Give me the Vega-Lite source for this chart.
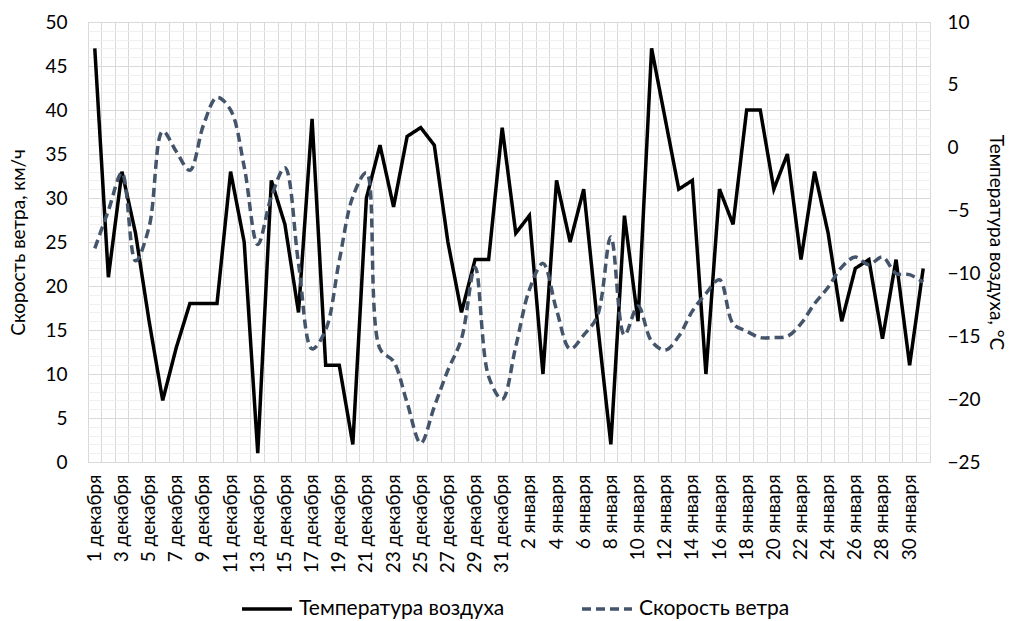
{
  "$schema": "https://vega.github.io/schema/vega-lite/v6.json",
  "width": 842,
  "height": 440,
  "autosize": {"type": "none"},
  "padding": {"left": 88, "top": 22, "right": 83, "bottom": 159},
  "background": "#ffffff",
  "config": {
    "font": "Lato",
    "view": {"stroke": "#d9d9d9", "strokeWidth": 1},
    "axis": {"labelFont": "Lato", "titleFont": "Lato", "labelColor": "#000000", "titleColor": "#000000", "titleFontWeight": "normal", "domain": false, "ticks": false},
    "legend": {"labelFont": "Lato", "labelColor": "#000000"}
  },
  "data": {
    "values": [
      {"day": "1 декабря", "temperature": 47, "wind_speed": -8},
      {"day": "2 декабря", "temperature": 21, "wind_speed": -5},
      {"day": "3 декабря", "temperature": 33, "wind_speed": -2},
      {"day": "4 декабря", "temperature": 26, "wind_speed": -9},
      {"day": "5 декабря", "temperature": 16, "wind_speed": -6.3},
      {"day": "6 декабря", "temperature": 7, "wind_speed": 1.3},
      {"day": "7 декабря", "temperature": 13, "wind_speed": -0.3},
      {"day": "8 декабря", "temperature": 18, "wind_speed": -1.8},
      {"day": "9 декабря", "temperature": 18, "wind_speed": 1.8},
      {"day": "10 декабря", "temperature": 18, "wind_speed": 4},
      {"day": "11 декабря", "temperature": 33, "wind_speed": 3},
      {"day": "12 декабря", "temperature": 25, "wind_speed": -1.5},
      {"day": "13 декабря", "temperature": 1, "wind_speed": -7.7},
      {"day": "14 декабря", "temperature": 32, "wind_speed": -3.9},
      {"day": "15 декабря", "temperature": 27, "wind_speed": -1.6},
      {"day": "16 декабря", "temperature": 17, "wind_speed": -9.2},
      {"day": "17 декабря", "temperature": 39, "wind_speed": -16},
      {"day": "18 декабря", "temperature": 11, "wind_speed": -14.5},
      {"day": "19 декабря", "temperature": 11, "wind_speed": -9},
      {"day": "20 декабря", "temperature": 2, "wind_speed": -3.9},
      {"day": "21 декабря", "temperature": 30, "wind_speed": -2},
      {"day": "22 декабря", "temperature": 36, "wind_speed": -16},
      {"day": "23 декабря", "temperature": 29, "wind_speed": -17},
      {"day": "24 декабря", "temperature": 37, "wind_speed": -20.3},
      {"day": "25 декабря", "temperature": 38, "wind_speed": -23.5},
      {"day": "26 декабря", "temperature": 36, "wind_speed": -20.6},
      {"day": "27 декабря", "temperature": 25, "wind_speed": -17.7},
      {"day": "28 декабря", "temperature": 17, "wind_speed": -15.2},
      {"day": "29 декабря", "temperature": 23, "wind_speed": -9.5},
      {"day": "30 декабря", "temperature": 23, "wind_speed": -18.2},
      {"day": "31 декабря", "temperature": 38, "wind_speed": -20},
      {"day": "1 января", "temperature": 26, "wind_speed": -15.8},
      {"day": "2 января", "temperature": 28, "wind_speed": -11.3},
      {"day": "3 января", "temperature": 10, "wind_speed": -9.2},
      {"day": "4 января", "temperature": 32, "wind_speed": -12.9},
      {"day": "5 января", "temperature": 25, "wind_speed": -16},
      {"day": "6 января", "temperature": 31, "wind_speed": -14.9},
      {"day": "7 января", "temperature": 16, "wind_speed": -13.4},
      {"day": "8 января", "temperature": 2, "wind_speed": -7.1},
      {"day": "9 января", "temperature": 28, "wind_speed": -14.9},
      {"day": "10 января", "temperature": 16, "wind_speed": -12.6},
      {"day": "11 января", "temperature": 47, "wind_speed": -15.4},
      {"day": "12 января", "temperature": 39, "wind_speed": -16.1},
      {"day": "13 января", "temperature": 31, "wind_speed": -15},
      {"day": "14 января", "temperature": 32, "wind_speed": -13},
      {"day": "15 января", "temperature": 10, "wind_speed": -11.6},
      {"day": "16 января", "temperature": 31, "wind_speed": -10.5},
      {"day": "17 января", "temperature": 27, "wind_speed": -14},
      {"day": "18 января", "temperature": 40, "wind_speed": -14.6},
      {"day": "19 января", "temperature": 40, "wind_speed": -15.1},
      {"day": "20 января", "temperature": 31, "wind_speed": -15.1},
      {"day": "21 января", "temperature": 35, "wind_speed": -15},
      {"day": "22 января", "temperature": 23, "wind_speed": -14},
      {"day": "23 января", "temperature": 33, "wind_speed": -12.4},
      {"day": "24 января", "temperature": 26, "wind_speed": -11.1},
      {"day": "25 января", "temperature": 16, "wind_speed": -9.5},
      {"day": "26 января", "temperature": 22, "wind_speed": -8.7},
      {"day": "27 января", "temperature": 23, "wind_speed": -9.3},
      {"day": "28 января", "temperature": 14, "wind_speed": -8.7},
      {"day": "29 января", "temperature": 23, "wind_speed": -10},
      {"day": "30 января", "temperature": 11, "wind_speed": -10.1},
      {"day": "31 января", "temperature": 22, "wind_speed": -10.7}
    ]
  },
  "layer": [
    {
      "mark": {"type": "line", "strokeWidth": 3.5, "strokeCap": "butt"},
      "encoding": {
        "x": {
          "field": "day", "type": "ordinal", "sort": null,
          "scale": {"type": "band", "paddingInner": 0, "paddingOuter": 0},
          "bandPosition": 0.5,
          "axis": {
            "orient": "bottom", "title": null, "grid": false,
            "values": ["1 декабря","3 декабря","5 декабря","7 декабря","9 декабря","11 декабря","13 декабря","15 декабря","17 декабря","19 декабря","21 декабря","23 декабря","25 декабря","27 декабря","29 декабря","31 декабря","2 января","4 января","6 января","8 января","10 января","12 января","14 января","16 января","18 января","20 января","22 января","24 января","26 января","28 января","30 января"],
            "labelAngle": -90, "labelAlign": "right", "labelBaseline": "middle",
            "labelPadding": 12, "labelFontSize": 19, "labelOverlap": false, "labelBound": false
          }
        },
        "y": {
          "field": "temperature", "type": "quantitative",
          "scale": {"domain": [0, 50], "nice": false, "zero": false},
          "axis": {
            "orient": "left", "title": "Скорость ветра, км/ч",
            "values": [0,1,2,3,4,5,6,7,8,9,10,11,12,13,14,15,16,17,18,19,20,21,22,23,24,25,26,27,28,29,30,31,32,33,34,35,36,37,38,39,40,41,42,43,44,45,46,47,48,49,50],
            "labelExpr": "datum.value % 5 === 0 ? datum.label : ''",
            "labelOverlap": false, "labelFlush": false,
            "labelFontSize": 19, "labelPadding": 21,
            "titleFontSize": 19, "titlePadding": 16,
            "grid": true,
            "gridColor": {"condition": {"test": "datum.value % 5 === 0", "value": "#d9d9d9"}, "value": "#f0f0f0"},
            "gridWidth": 1
          }
        },
        "color": {
          "datum": "Температура воздуха", "type": "nominal",
          "scale": {"domain": ["Температура воздуха", "Скорость ветра"], "range": ["#000000", "#44546a"]},
          "legend": {
            "title": null, "orient": "none", "direction": "horizontal",
            "legendX": 152, "legendY": 560,
            "symbolType": "stroke", "symbolSize": 2500, "symbolStrokeWidth": 3.5,
            "labelFontSize": 21, "labelOffset": 5, "columnPadding": 70, "labelLimit": 400
          }
        },
        "strokeDash": {
          "datum": "Температура воздуха", "type": "nominal",
          "scale": {"domain": ["Температура воздуха", "Скорость ветра"], "range": [[1, 0], [9, 5]]},
          "legend": {
            "title": null, "orient": "none", "direction": "horizontal",
            "legendX": 152, "legendY": 560,
            "symbolType": "stroke", "symbolSize": 2500, "symbolStrokeWidth": 3.5,
            "labelFontSize": 21, "labelOffset": 5, "columnPadding": 70, "labelLimit": 400
          }
        }
      }
    },
    {
      "mark": {"type": "line", "strokeWidth": 3.5, "strokeCap": "butt", "interpolate": "catmull-rom"},
      "encoding": {
        "x": {
          "field": "day", "type": "ordinal", "sort": null,
          "bandPosition": 0.5,
          "axis": {
            "orient": "top", "title": null, "labels": false, "ticks": false, "domain": false,
            "grid": true, "gridColor": "#d9d9d9", "gridWidth": 1, "bandPosition": 0
          }
        },
        "y": {
          "field": "wind_speed", "type": "quantitative",
          "scale": {"domain": [-25, 10], "nice": false, "zero": false},
          "axis": {
            "orient": "right", "title": "Температура воздуха, °С",
            "values": [-25, -20, -15, -10, -5, 0, 5, 10],
            "grid": false, "labelFontSize": 19, "labelPadding": 17,
            "labelFlush": false, "labelOverlap": false,
            "titleFontSize": 19, "titlePadding": 5
          }
        },
        "color": {"datum": "Скорость ветра", "type": "nominal"},
        "strokeDash": {"datum": "Скорость ветра", "type": "nominal"}
      }
    }
  ],
  "resolve": {"scale": {"y": "independent"}}
}
